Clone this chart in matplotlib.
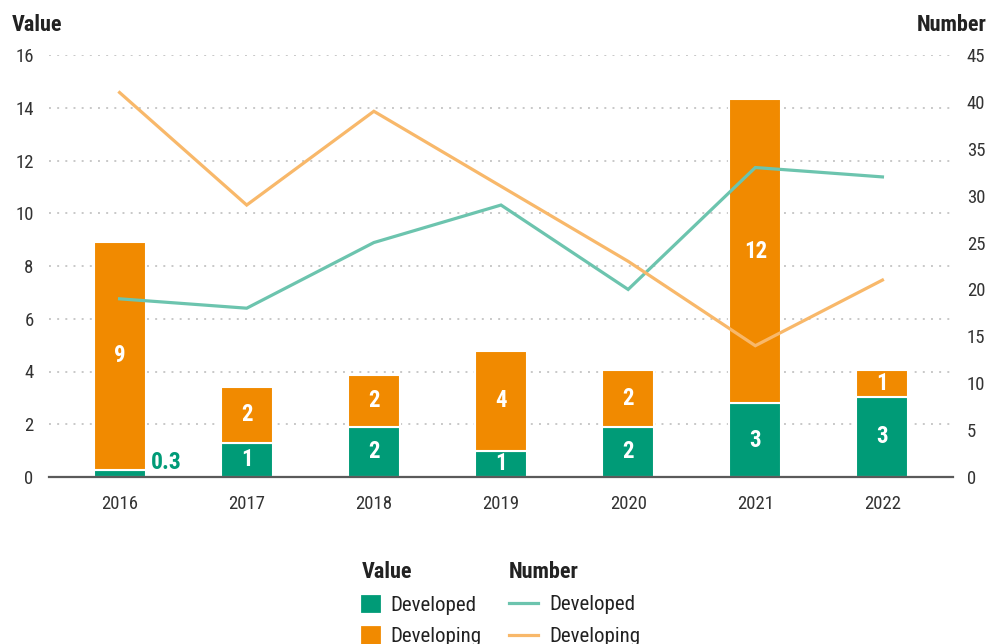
import numpy as np
import matplotlib
matplotlib.use("Agg")
import matplotlib.pyplot as plt
from matplotlib import font_manager
from matplotlib.patches import Patch
from matplotlib.lines import Line2D

# narrow face if one is installed, otherwise plain Roboto
names = {f.name for f in font_manager.fontManager.ttflist}
font = "Roboto"
for cand in ["Roboto Condensed", "Liberation Sans Narrow", "Arial Narrow"]:
    if cand in names:
        font = cand
        break
plt.rcParams["font.family"] = [font, "DejaVu Sans"]

years = ["2016", "2017", "2018", "2019", "2020", "2021", "2022"]

# value (left axis)
value_developed = [0.27, 1.30, 1.91, 0.99, 1.91, 2.79, 3.04]
value_developing = [8.64, 2.11, 1.96, 3.79, 2.15, 11.54, 1.02]

# number of deals (right axis)
number_developed = [19, 18, 25, 29, 20, 33, 32]
number_developing = [41, 29, 39, 31, 23, 14, 21]

green = "#009B77"
orange = "#F18A00"
teal = "#6CC4AE"
light_orange = "#F8B86A"
grey_text = "#333333"

fig = plt.figure(figsize=(9.89, 6.44), dpi=100)
ax = fig.add_axes([49 / 989, 1 - 477 / 644, (953 - 49) / 989, (477 - 55) / 644])
ax2 = ax.twinx()

x = np.arange(len(years))
w = 0.41

ax.bar(x, value_developed, w, color=green, edgecolor="white", linewidth=1.5, zorder=3)
ax.bar(x, value_developing, w, bottom=value_developed, color=orange,
       edgecolor="white", linewidth=1.5, zorder=3)

def fmt(v):
    return f"{v:.1f}" if v < 0.5 else f"{round(v):d}"

for i in range(len(years)):
    d = value_developed[i]
    g = value_developing[i]
    if d < 0.5:
        ax.annotate(fmt(d), xy=(x[i] + w / 2, 0), xytext=(4, 2), textcoords="offset points",
                    ha="left", va="bottom", color=green, fontsize=17, fontweight="bold", zorder=5)
    else:
        ax.text(x[i], d / 2, fmt(d), ha="center", va="center", color="white",
                fontsize=16.5, fontweight="bold", zorder=5)
    ax.text(x[i], d + g / 2, fmt(g), ha="center", va="center", color="white",
            fontsize=16.5, fontweight="bold", zorder=5)

ax2.plot(x, number_developed, color=teal, lw=2.3, solid_joinstyle="miter")
ax2.plot(x, number_developing, color=light_orange, lw=2.3, solid_joinstyle="miter")

ax.set_xlim(-0.555, 6.555)
ax.set_ylim(0, 16)
ax2.set_ylim(0, 45)
ax.set_yticks(range(0, 17, 2))
ax2.set_yticks(range(0, 46, 5))
ax.set_xticks(x)
ax.set_xticklabels(years)

ax.set_zorder(1)
ax2.set_zorder(2)
ax2.patch.set_visible(False)

for a in (ax, ax2):
    for s in a.spines.values():
        s.set_visible(False)
    a.tick_params(length=0, labelsize=13.5, labelcolor=grey_text)
ax.spines["bottom"].set_visible(True)
ax.spines["bottom"].set_color("#5A5A5A")
ax.spines["bottom"].set_linewidth(1.6)
ax.spines["bottom"].set_zorder(4)
ax.tick_params(axis="y", pad=11)
ax2.tick_params(axis="y", pad=10)
ax.tick_params(axis="x", pad=13)

for v in range(2, 17, 2):
    ax.axhline(v, color="#C8C8C8", lw=1.4, ls=(0, (1, 3.2)), zorder=1)

fig.text(12 / 989, 1 - 25 / 644, "Value", ha="left", va="center", fontsize=16,
         fontweight="bold", color="#222222")
fig.text(987 / 989, 1 - 25 / 644, "Number", ha="right", va="center", fontsize=16,
         fontweight="bold", color="#222222")

bar_handles = [
    Patch(facecolor=green, edgecolor=green, linewidth=2, joinstyle="round", label="Developed"),
    Patch(facecolor=orange, edgecolor=orange, linewidth=2, joinstyle="round", label="Developing"),
]
line_handles = [
    Line2D([], [], color=teal, lw=2.3, label="Developed"),
    Line2D([], [], color=light_orange, lw=2.3, label="Developing"),
]

leg_kw = dict(frameon=False, fontsize=15, title_fontsize=16, alignment="left",
              labelspacing=0.6, borderpad=0, borderaxespad=0, handletextpad=0.55,
              labelcolor="#222222")
leg1 = fig.legend(handles=bar_handles, title="Value", loc="upper left",
                  bbox_to_anchor=(362 / 989, 1 - 561 / 644), handlelength=0.8,
                  handleheight=0.8, **leg_kw)
leg2 = fig.legend(handles=line_handles, title="Number", loc="upper left",
                  bbox_to_anchor=(509 / 989, 1 - 561 / 644), handlelength=1.4, **leg_kw)
for leg in (leg1, leg2):
    leg.get_title().set_fontweight("bold")
    leg.get_title().set_color("#222222")

fig.savefig("out.png", dpi=100)
